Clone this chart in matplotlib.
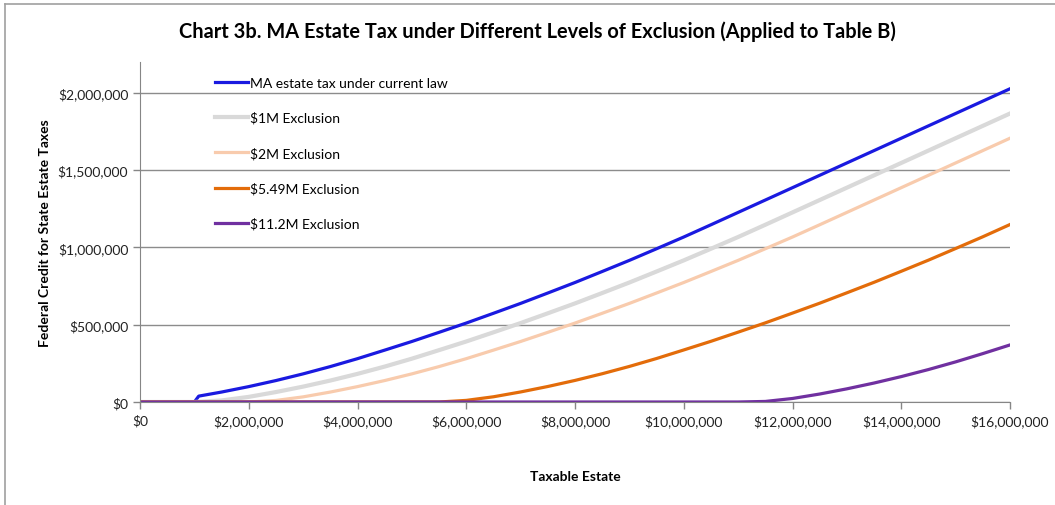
import matplotlib
matplotlib.use("Agg")
import matplotlib.pyplot as plt
from matplotlib.lines import Line2D
from matplotlib.ticker import FuncFormatter

plt.rcParams['font.family'] = ['Lato', 'DejaVu Sans']

# taxable estate, $ (points every $500k)
estate = [0, 0.5e6, 1.0e6, 1.5e6, 2.0e6, 2.5e6, 3.0e6, 3.5e6, 4.0e6, 4.5e6, 5.0e6,
          5.5e6, 6.0e6, 6.5e6, 7.0e6, 7.5e6, 8.0e6, 8.5e6, 9.0e6, 9.5e6, 10.0e6,
          10.5e6, 11.0e6, 11.5e6, 12.0e6, 12.5e6, 13.0e6, 13.5e6, 14.0e6, 14.5e6,
          15.0e6, 15.5e6, 16.0e6]

# current law has a cliff just above $1M, so it gets its own x points
current_x = [0, 0.5e6, 1.0e6, 1.08e6] + estate[3:]
current_law = [0, 0, 0, 38000, 64400, 99600, 138800, 182000, 229200, 280400,
               335600, 391600, 450800, 510800, 574000, 638000, 705200, 773200,
               844400, 916400, 991600, 1067600, 1146800, 1226800, 1306800,
               1386800, 1466800, 1546800, 1626800, 1706800, 1786800, 1866800,
               1946800, 2026800]

excl_1m = [0, 0, 0, 10000, 33200, 64400, 99600, 138800, 182000, 229200, 280400,
           335600, 391600, 450800, 510800, 574000, 638000, 705200, 773200, 844400,
           916400, 991600, 1067600, 1146800, 1226800, 1306800, 1386800, 1466800,
           1546800, 1626800, 1706800, 1786800, 1866800]

excl_2m = [0, 0, 0, 0, 0, 10000, 33200, 64400, 99600, 138800, 182000, 229200,
           280400, 335600, 391600, 450800, 510800, 574000, 638000, 705200, 773200,
           844400, 916400, 991600, 1067600, 1146800, 1226800, 1306800, 1386800,
           1466800, 1546800, 1626800, 1706800]

excl_549m = [0, 0, 0, 0, 0, 0, 0, 0, 0, 0, 0, 0, 10400, 33760, 65040, 100320,
             139600, 182880, 230160, 281440, 336720, 392720, 452000, 512000,
             575280, 639280, 706560, 774560, 845840, 917840, 993120, 1069120,
             1148400]

excl_112m = [0, 0, 0, 0, 0, 0, 0, 0, 0, 0, 0, 0, 0, 0, 0, 0, 0, 0, 0, 0, 0, 0, 0,
             3600, 22800, 51600, 85200, 122800, 164400, 210000, 259600, 313200,
             369200]

labels = ["MA estate tax under current law", "$1M Exclusion", "$2M Exclusion",
          "$5.49M Exclusion", "$11.2M Exclusion"]
colors = ["#1a1ae0", "#d9d9d9", "#f8cbad", "#e36c0a", "#7030a0"]

W, H = 1055, 506
fig = plt.figure(figsize=(W / 100, H / 100), dpi=100)
ax = fig.add_axes([140 / W, 1 - 403 / H, 870 / W, 340 / H])

ax.plot(current_x, current_law, color=colors[0], lw=2.3, label=labels[0])
ax.plot(estate, excl_1m, color=colors[1], lw=3.0, label=labels[1])
ax.plot(estate, excl_2m, color=colors[2], lw=2.3, label=labels[2])
ax.plot(estate, excl_549m, color=colors[3], lw=2.3, label=labels[3])
ax.plot(estate, excl_112m, color=colors[4], lw=2.3, label=labels[4])

ax.set_xlim(0, 16e6)
ax.set_ylim(0, 2.2e6)
ax.set_xticks([i * 2e6 for i in range(9)])
ax.set_yticks([i * 5e5 for i in range(5)])
money = FuncFormatter(lambda v, p: "${:,.0f}".format(v))
ax.xaxis.set_major_formatter(money)
ax.yaxis.set_major_formatter(money)
ax.tick_params(axis='both', labelsize=10, colors="#868686", length=5, width=1,
               labelcolor="#222222")
ax.tick_params(axis='x', pad=4)
ax.yaxis.grid(True, color="#8c8c8c", lw=1)
ax.set_axisbelow(True)
for s in ["top", "right"]:
    ax.spines[s].set_visible(False)
for s in ["left", "bottom"]:
    ax.spines[s].set_color("#868686")

ax.set_xlabel("Taxable Estate", fontsize=10, fontweight="bold", labelpad=31)
ax.set_ylabel("Federal Credit for State Estate Taxes", fontsize=10,
              fontweight="bold", labelpad=5)
fig.text(537 / W, 1 - 32 / H,
         "Chart 3b. MA Estate Tax under Different Levels of Exclusion (Applied to Table B)",
         ha="center", va="center", fontsize=14.4, fontweight="bold")

leg = ax.legend(loc="upper left", bbox_to_anchor=(209 / W, 1 - 72 / H),
                bbox_transform=fig.transFigure, frameon=False, fontsize=10,
                handlelength=2.4, handletextpad=0.15, labelspacing=1.64,
                borderaxespad=0)

# outer chart border
fig.add_artist(Line2D([5 / W, 5 / W], [0, 1 - 5 / H], color="#a0a0a0", lw=1.2))
fig.add_artist(Line2D([5 / W, 1], [1 - 5 / H, 1 - 5 / H], color="#a0a0a0", lw=1.2))

fig.savefig("out.png", dpi=100)
